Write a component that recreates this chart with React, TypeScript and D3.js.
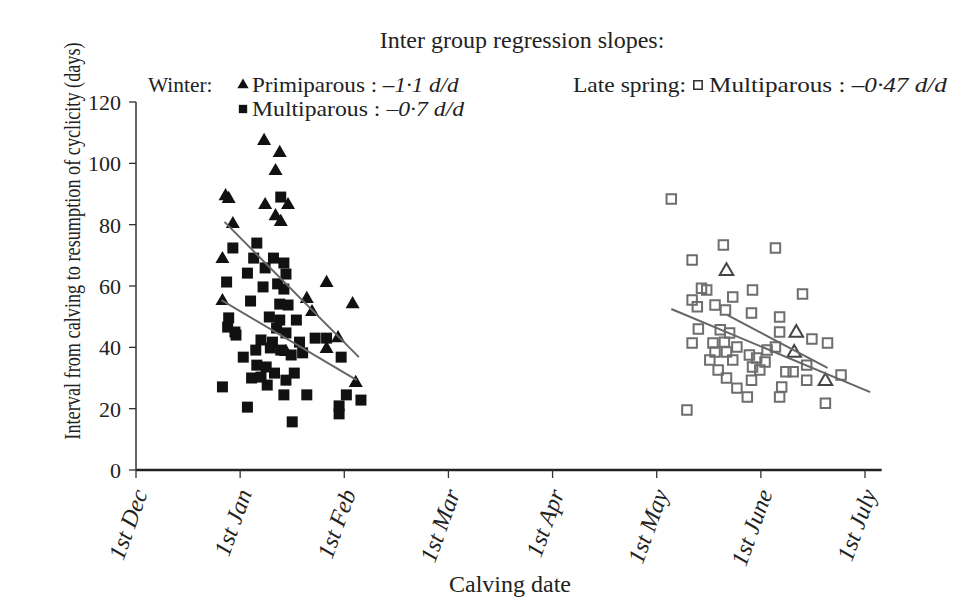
import React, { useEffect, useRef } from "react";
import * as d3 from "d3";

// x: months after 1st Dec (1 = 1st Jan, 2 = 1st Feb ...), y: days
const monthLabels = ["1st Dec", "1st Jan", "1st Feb", "1st Mar", "1st Apr", "1st May", "1st June", "1st July"];
const yTicks = [0, 20, 40, 60, 80, 100, 120];

const winterPrimi: [number, number][] = [
  [1.23, 107.3], [1.38, 103.4], [1.34, 97.5], [0.86, 89.3], [0.89, 88.4], [1.24, 86.4], [1.46, 86.4],
  [1.34, 82.8], [1.39, 80.9], [0.93, 80.2], [0.83, 68.8], [1.83, 61.0], [0.83, 55.1], [1.64, 55.8],
  [2.08, 54.1], [1.69, 51.5], [1.94, 43.0], [1.83, 39.5], [2.11, 28.4], [1.44, 38.5]
];

const winterMulti: [number, number][] = [
  [1.39, 89.0], [1.16, 74.0], [0.93, 72.4], [1.13, 69.1], [1.32, 69.1], [1.42, 67.5], [1.07, 64.2],
  [1.24, 65.9], [1.44, 63.9], [0.87, 61.3], [1.22, 59.7], [1.36, 60.7], [1.42, 59.0], [1.10, 55.1],
  [1.38, 54.1], [1.46, 53.8], [1.28, 49.9], [1.38, 48.9], [1.54, 48.9], [0.89, 49.6], [0.88, 46.6],
  [0.95, 45.0], [1.35, 46.3], [1.44, 44.7], [1.20, 42.4], [1.31, 41.7], [1.57, 41.7], [1.72, 43.0],
  [1.83, 43.0], [1.15, 39.1], [1.60, 38.2], [1.03, 36.8], [1.39, 39.1], [1.97, 36.8], [1.25, 33.6],
  [1.33, 31.6], [1.11, 30.0], [1.20, 30.3], [1.52, 31.6], [1.44, 29.3], [0.83, 27.1], [1.42, 24.5],
  [1.64, 24.5], [1.07, 20.5], [1.50, 15.7], [2.02, 24.5], [2.16, 22.8], [1.95, 20.9], [1.95, 18.3],
  [1.29, 39.8], [0.96, 44.0], [1.16, 34.2], [1.49, 37.5], [1.26, 27.7]
];

const springMulti: [number, number][] = [
  [5.14, 88.4], [5.64, 73.4], [6.14, 72.4], [5.34, 68.5], [5.43, 59.3], [5.48, 58.7], [5.73, 56.4],
  [5.92, 58.7], [6.40, 57.4], [5.34, 55.4], [5.39, 53.2], [5.56, 53.8], [5.66, 52.2], [5.91, 51.2],
  [6.18, 49.9], [6.18, 45.0], [5.40, 46.0], [5.61, 45.7], [5.70, 44.7], [6.49, 42.7], [6.64, 41.4],
  [5.34, 41.4], [5.54, 41.4], [5.65, 41.7], [5.77, 40.1], [5.56, 38.5], [5.67, 38.5], [5.89, 37.5],
  [6.06, 39.1], [6.14, 40.1], [5.51, 35.9], [5.73, 35.9], [5.96, 36.5], [6.04, 35.2], [5.92, 33.6],
  [6.44, 34.2], [5.59, 32.6], [5.99, 32.6], [6.24, 32.0], [6.31, 32.0], [6.77, 31.0], [5.67, 30.0],
  [5.91, 29.3], [6.44, 29.3], [5.77, 26.7], [6.20, 27.1], [5.87, 23.8], [6.18, 23.8], [6.62, 21.8],
  [5.29, 19.6]
];

const springPrimi: [number, number][] = [
  [5.67, 64.9], [6.34, 44.7], [6.32, 38.2], [6.62, 29.0]
];

// regression lines, end points
const fitWinterPrimi: [number, number][] = [[0.85, 80.9], [2.14, 36.8]];
const fitWinterMulti: [number, number][] = [[0.82, 55.4], [2.12, 29.3]];
const fitSpringMulti: [number, number][] = [[5.14, 52.5], [7.05, 25.4]];
const fitSpringPrimi: [number, number][] = [[5.68, 50.5], [6.64, 33.3]];

const FONT = "'Liberation Serif', 'Times New Roman', serif";

export default function App() {
  const ref = useRef<SVGSVGElement>(null);

  useEffect(() => {
    const svg = d3.select(ref.current);
    svg.selectAll("*").remove();

    const x = d3.scaleLinear().domain([0, 7]).range([136, 865]);
    const y = d3.scaleLinear().domain([0, 120]).range([470, 102]);

    // text with optional stretch along the baseline
    const text = (tx: number, ty: number, str: string, size: number, anchor = "start", sx = 1, rot = 0) =>
      svg.append("g")
        .attr("transform", `translate(${tx},${ty}) rotate(${rot}) scale(${sx},1)`)
        .append("text")
        .attr("text-anchor", anchor)
        .attr("font-family", FONT)
        .attr("font-size", size)
        .attr("fill", "#222")
        .text(str);

    // axes
    svg.append("line")
      .attr("x1", x(0)).attr("x2", x(7.16))
      .attr("y1", y(0)).attr("y2", y(0))
      .attr("stroke", "#222").attr("stroke-width", 2.5);
    svg.append("line")
      .attr("x1", x(0)).attr("x2", x(0))
      .attr("y1", y(0)).attr("y2", y(120))
      .attr("stroke", "#333").attr("stroke-width", 1.5);

    svg.selectAll(".ytick").data(yTicks).enter()
      .append("line")
      .attr("x1", x(0) - 7).attr("x2", x(0))
      .attr("y1", d => y(d)).attr("y2", d => y(d))
      .attr("stroke", "#333").attr("stroke-width", 1.3);
    yTicks.forEach(t => text(x(0) - 15, y(t) + 8, String(t), 22, "end"));

    monthLabels.forEach((lab, i) => {
      svg.append("line")
        .attr("x1", x(i)).attr("x2", x(i))
        .attr("y1", y(0)).attr("y2", y(0) + 8)
        .attr("stroke", "#333").attr("stroke-width", 1.3);
      text(x(i) + 12, y(0) + 23, lab, 24, "end", 1, -70).attr("font-style", "italic");
    });

    // axis titles
    text(80, 241, "Interval from calving to resumption of cyclicity (days)", 24, "middle", 0.76, -90);
    text(510, 592, "Calving date", 24, "middle");

    // points
    const tri = d3.symbol().type(d3.symbolTriangle).size(85);
    const sq = d3.symbol().type(d3.symbolSquare).size(121);
    const osq = d3.symbol().type(d3.symbolSquare).size(90);
    const otri = d3.symbol().type(d3.symbolTriangle).size(80);

    svg.append("g").selectAll("path").data(winterMulti).enter()
      .append("path")
      .attr("d", sq())
      .attr("transform", d => `translate(${x(d[0])},${y(d[1])})`)
      .attr("fill", "#111");
    svg.append("g").selectAll("path").data(winterPrimi).enter()
      .append("path")
      .attr("d", tri())
      .attr("transform", d => `translate(${x(d[0])},${y(d[1])})`)
      .attr("fill", "#111");
    svg.append("g").selectAll("path").data(springMulti).enter()
      .append("path")
      .attr("d", osq())
      .attr("transform", d => `translate(${x(d[0])},${y(d[1])})`)
      .attr("fill", "none").attr("stroke", "#6e6e6e").attr("stroke-width", 2);
    svg.append("g").selectAll("path").data(springPrimi).enter()
      .append("path")
      .attr("d", otri())
      .attr("transform", d => `translate(${x(d[0])},${y(d[1])})`)
      .attr("fill", "none").attr("stroke", "#444").attr("stroke-width", 2);

    // regression lines
    const line = d3.line<[number, number]>().x(d => x(d[0])).y(d => y(d[1]));
    [fitWinterPrimi, fitWinterMulti, fitSpringMulti, fitSpringPrimi].forEach(f => {
      svg.append("path")
        .attr("d", line(f))
        .attr("fill", "none")
        .attr("stroke", "#666")
        .attr("stroke-width", 2);
    });

    // header / legend
    text(522, 48, "Inter group regression slopes:", 24, "middle");
    text(148, 92, "Winter:", 21, "start", 1.02);

    const legendRow = (lx: number, ly: number, name: string, slope: string, sx = 1) => {
      const t = text(lx, ly, "", 21, "start", sx);
      t.append("tspan").text(name + " : ");
      t.append("tspan").attr("font-style", "italic").text(slope);
    };
    const smallTri = d3.symbol().type(d3.symbolTriangle).size(55);
    const smallSq = d3.symbol().type(d3.symbolSquare).size(70);
    svg.append("path").attr("d", smallTri()).attr("transform", "translate(243,85)").attr("fill", "#111");
    legendRow(252, 92, "Primiparous", "\u20131\u00b71 d/d", 1.1);
    svg.append("path").attr("d", smallSq()).attr("transform", "translate(243,109)").attr("fill", "#111");
    legendRow(252, 116, "Multiparous", "\u20130\u00b77 d/d", 1.13);

    text(573, 92, "Late spring:", 21, "start", 1.12);
    svg.append("path").attr("d", smallSq()).attr("transform", "translate(698,85)")
      .attr("fill", "none").attr("stroke", "#333").attr("stroke-width", 1.6);
    legendRow(709, 92, "Multiparous", "\u20130\u00b747 d/d", 1.2);
  }, []);

  return (
    <svg
      ref={ref}
      width={954}
      height={597}
      style={{ position: "absolute", left: 0, top: 0, background: "#fff" }}
    />
  );
}
